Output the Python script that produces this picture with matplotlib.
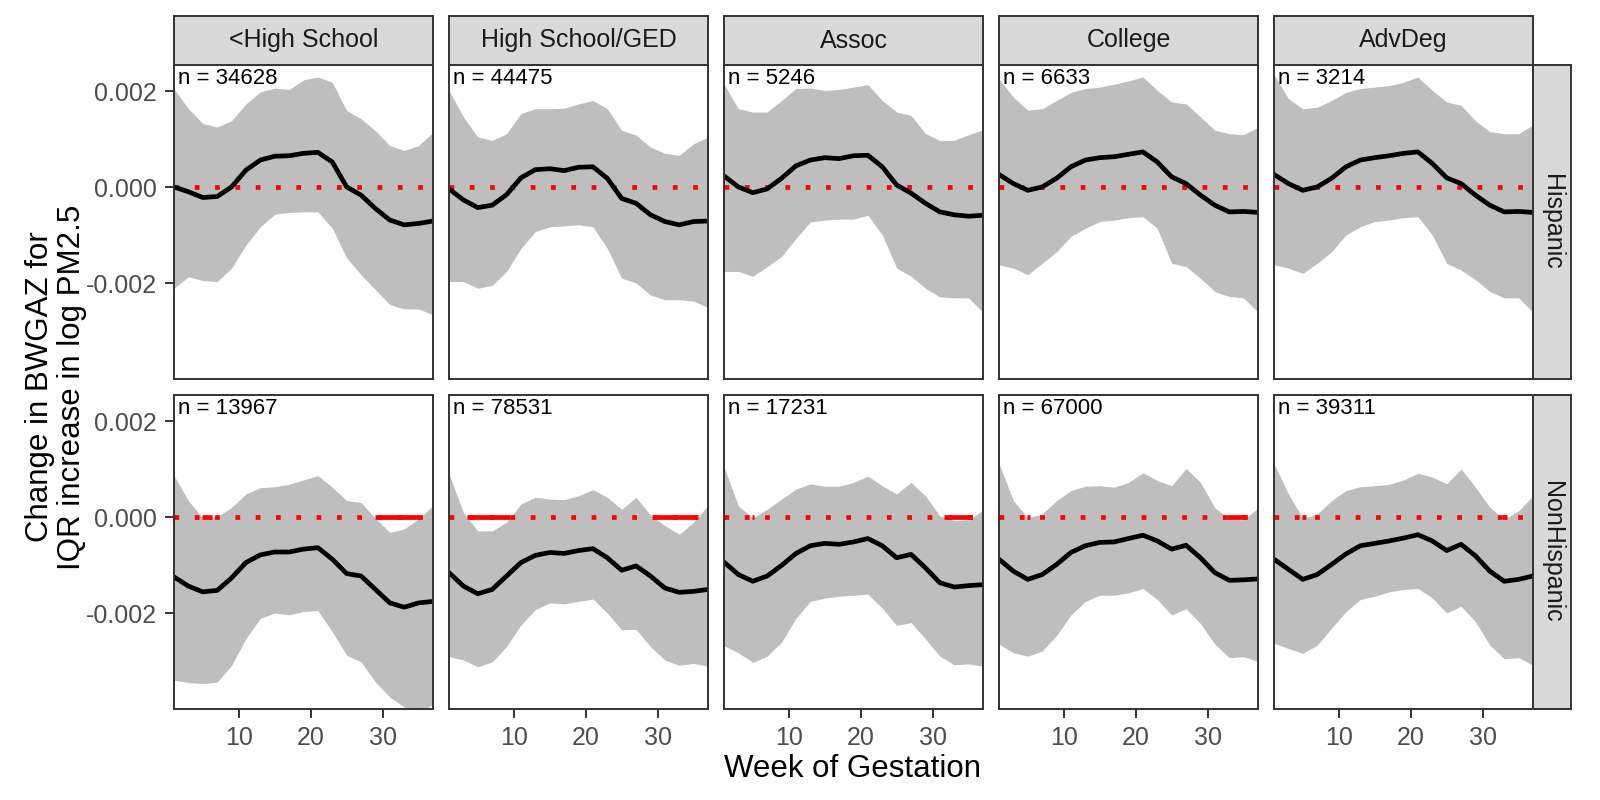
import numpy as np
import matplotlib.pyplot as plt

plt.rcParams['font.family'] = ['Liberation Sans', 'DejaVu Sans']

# week of gestation (read every second week)
weeks = np.arange(1, 38, 2)

education = ['<High School', 'High School/GED', 'Assoc', 'College', 'AdvDeg']
ethnicity = ['Hispanic', 'NonHispanic']
n_hisp = [34628, 44475, 5246, 6633, 3214]
n_nonhisp = [13967, 78531, 17231, 67000, 39311]

# estimate, lower and upper CI, in units of 1e-3, one list per education level
hisp_est = [
    [0.01, -0.09, -0.21, -0.19, 0.01, 0.36, 0.57, 0.65, 0.66, 0.71, 0.73, 0.53, 0.01, -0.16, -0.44, -0.68, -0.78, -0.75, -0.70],
    [-0.03, -0.26, -0.42, -0.37, -0.15, 0.20, 0.37, 0.39, 0.35, 0.42, 0.43, 0.19, -0.23, -0.33, -0.57, -0.71, -0.78, -0.71, -0.70],
    [0.24, 0.01, -0.11, -0.03, 0.19, 0.45, 0.57, 0.62, 0.60, 0.66, 0.67, 0.43, 0.05, -0.12, -0.33, -0.51, -0.57, -0.60, -0.58],
    [0.27, 0.08, -0.06, 0.01, 0.19, 0.43, 0.57, 0.62, 0.64, 0.69, 0.74, 0.53, 0.22, 0.08, -0.16, -0.37, -0.51, -0.50, -0.52],
    [0.27, 0.08, -0.06, 0.01, 0.19, 0.43, 0.57, 0.62, 0.66, 0.71, 0.74, 0.50, 0.20, 0.08, -0.16, -0.37, -0.51, -0.50, -0.52],
]
hisp_hi = [
    [2.05, 1.64, 1.33, 1.26, 1.39, 1.74, 1.99, 2.07, 2.04, 2.24, 2.30, 2.19, 1.60, 1.43, 1.18, 0.87, 0.77, 0.87, 1.15],
    [2.02, 1.47, 1.05, 0.98, 1.12, 1.54, 1.64, 1.64, 1.65, 1.74, 1.81, 1.64, 1.19, 1.09, 0.84, 0.71, 0.67, 0.91, 1.05],
    [2.15, 1.64, 1.57, 1.57, 1.81, 2.06, 2.07, 2.02, 2.04, 2.09, 2.14, 1.81, 1.57, 1.50, 1.12, 0.98, 0.98, 1.10, 1.20],
    [2.26, 1.88, 1.61, 1.64, 1.81, 1.98, 2.06, 2.09, 2.15, 2.22, 2.30, 2.02, 1.78, 1.74, 1.47, 1.19, 1.12, 1.10, 1.25],
    [2.35, 1.85, 1.64, 1.67, 1.81, 1.98, 2.06, 2.09, 2.12, 2.19, 2.30, 2.02, 1.78, 1.71, 1.39, 1.16, 1.12, 1.12, 1.30],
]
hisp_lo = [
    [-2.10, -1.86, -1.94, -1.96, -1.68, -1.20, -0.82, -0.56, -0.52, -0.51, -0.51, -0.85, -1.47, -1.82, -2.13, -2.44, -2.53, -2.53, -2.65],
    [-1.96, -1.96, -2.10, -2.04, -1.75, -1.27, -0.92, -0.82, -0.80, -0.78, -0.82, -1.27, -1.89, -1.99, -2.24, -2.34, -2.34, -2.37, -2.50],
    [-1.75, -1.75, -1.85, -1.65, -1.44, -1.06, -0.72, -0.68, -0.66, -0.66, -0.58, -0.99, -1.68, -1.85, -2.10, -2.28, -2.30, -2.30, -2.60],
    [-1.61, -1.68, -1.82, -1.58, -1.34, -1.02, -0.85, -0.71, -0.68, -0.63, -0.61, -0.85, -1.58, -1.65, -1.89, -2.17, -2.27, -2.30, -2.60],
    [-1.61, -1.68, -1.79, -1.58, -1.34, -0.99, -0.82, -0.71, -0.68, -0.63, -0.61, -0.99, -1.58, -1.72, -1.92, -2.17, -2.30, -2.30, -2.60],
]
nonhisp_est = [
    [-1.24, -1.43, -1.55, -1.52, -1.26, -0.94, -0.78, -0.72, -0.72, -0.66, -0.63, -0.87, -1.17, -1.22, -1.50, -1.78, -1.87, -1.78, -1.75],
    [-1.15, -1.43, -1.59, -1.50, -1.22, -0.94, -0.79, -0.73, -0.75, -0.69, -0.65, -0.84, -1.10, -1.01, -1.22, -1.47, -1.56, -1.54, -1.50],
    [-0.93, -1.19, -1.33, -1.22, -1.00, -0.75, -0.59, -0.54, -0.56, -0.51, -0.44, -0.59, -0.84, -0.77, -1.05, -1.36, -1.45, -1.42, -1.40],
    [-0.87, -1.12, -1.29, -1.19, -0.98, -0.73, -0.59, -0.52, -0.51, -0.44, -0.37, -0.49, -0.66, -0.58, -0.84, -1.15, -1.31, -1.30, -1.28],
    [-0.87, -1.08, -1.29, -1.19, -0.98, -0.76, -0.59, -0.54, -0.49, -0.43, -0.36, -0.49, -0.69, -0.56, -0.80, -1.12, -1.33, -1.29, -1.22],
]
nonhisp_hi = [
    [0.87, 0.35, -0.02, 0.01, 0.21, 0.49, 0.62, 0.64, 0.69, 0.78, 0.87, 0.63, 0.35, 0.31, -0.02, -0.31, -0.24, -0.03, 0.25],
    [0.91, 0.10, -0.28, -0.28, -0.10, 0.28, 0.42, 0.38, 0.37, 0.45, 0.58, 0.42, 0.17, 0.42, 0.05, -0.17, -0.35, -0.10, 0.25],
    [1.05, 0.24, -0.01, 0.17, 0.38, 0.59, 0.70, 0.65, 0.65, 0.73, 0.86, 0.66, 0.49, 0.73, 0.45, 0.03, -0.07, -0.05, 0.15],
    [1.12, 0.35, -0.01, 0.07, 0.35, 0.56, 0.65, 0.66, 0.63, 0.73, 0.93, 0.77, 0.66, 1.02, 0.73, 0.20, -0.03, -0.05, 0.20],
    [1.12, 0.49, -0.02, 0.07, 0.35, 0.56, 0.64, 0.66, 0.69, 0.78, 0.92, 0.84, 0.70, 1.01, 0.63, 0.21, -0.04, 0.14, 0.45],
]
nonhisp_lo = [
    [-3.39, -3.44, -3.46, -3.43, -3.08, -2.52, -2.10, -1.99, -2.03, -1.96, -1.94, -2.38, -2.87, -3.01, -3.43, -3.74, -3.95, -4.05, -3.90],
    [-2.90, -2.97, -3.11, -3.01, -2.69, -2.24, -1.92, -1.78, -1.80, -1.75, -1.70, -1.99, -2.34, -2.33, -2.69, -2.97, -3.08, -3.04, -3.10],
    [-2.67, -2.82, -3.02, -2.89, -2.60, -2.10, -1.75, -1.68, -1.64, -1.62, -1.60, -1.89, -2.25, -2.19, -2.53, -2.89, -3.07, -3.05, -3.10],
    [-2.64, -2.82, -2.89, -2.78, -2.46, -2.03, -1.75, -1.62, -1.62, -1.57, -1.48, -1.71, -2.03, -1.90, -2.21, -2.64, -2.92, -2.90, -3.00],
    [-2.62, -2.73, -2.83, -2.66, -2.31, -1.96, -1.71, -1.64, -1.55, -1.50, -1.48, -1.68, -1.99, -1.85, -2.17, -2.66, -2.94, -2.92, -3.08],
]

rows = [
    (hisp_est, hisp_lo, hisp_hi, n_hisp),
    (nonhisp_est, nonhisp_lo, nonhisp_hi, n_nonhisp),
]


def below_zero(x, hi):
    # spans where the upper bound sits under zero (linear crossings)
    spans = []
    start = x[0] if hi[0] < 0 else None
    for i in range(1, len(x)):
        a, b = hi[i - 1], hi[i]
        if (a < 0) != (b < 0):
            xc = x[i - 1] + (x[i] - x[i - 1]) * a / (a - b)
            if b < 0:
                start = xc
            else:
                spans.append((start, xc))
                start = None
    if start is not None:
        spans.append((start, x[-1]))
    return spans


# layout in pixels (1600 x 800)
W, H = 1600, 800
col_left = [174, 449, 724, 999, 1274]
PW, PH = 259, 314
row_top = [65, 395]
STRIP = 49
STRIP_R = 38
BORDER = '#333333'
LW = 3.4

fig = plt.figure(figsize=(16, 8), dpi=100)


def rect(x, y, w, h):
    return [x / W, 1 - (y + h) / H, w / W, h / H]


def style_strip(ax):
    ax.set_facecolor('#D9D9D9')
    ax.set_xticks([])
    ax.set_yticks([])
    for sp in ax.spines.values():
        sp.set_color(BORDER)
        sp.set_linewidth(1.4)


for r, (est, lo, hi, ns) in enumerate(rows):
    for c in range(5):
        ax = fig.add_axes(rect(col_left[c], row_top[r], PW, PH))
        e = np.array(est[c]) * 1e-3
        l = np.array(lo[c]) * 1e-3
        u = np.array(hi[c]) * 1e-3
        ax.fill_between(weeks, l, u, color='#BEBEBE', lw=0)
        ax.plot([1, 37], [0, 0], color='red', lw=LW, linestyle=(0, (1, 3.3)),
                dash_capstyle='butt')
        for s0, s1 in below_zero(weeks, hi[c]):
            ax.plot([s0, s1], [0, 0], color='red', lw=LW, solid_capstyle='butt')
        ax.plot(weeks, e, color='black', lw=LW)
        ax.text(0.015, 0.992, f'n = {ns[c]}', transform=ax.transAxes,
                ha='left', va='top', fontsize=16, color='black')

        ax.set_xlim(1, 37)
        ax.set_ylim(-3.99e-3, 2.55e-3)
        for sp in ax.spines.values():
            sp.set_color(BORDER)
            sp.set_linewidth(1.4)
        ax.tick_params(length=6.7, width=1.4, color=BORDER, labelcolor='#4D4D4D',
                       labelsize=18, pad=5.5)
        ax.set_xticks([10, 20, 30])
        ax.set_yticks([-0.002, 0.0, 0.002])
        if r == 1:
            ax.set_xticklabels(['10', '20', '30'])
        else:
            ax.tick_params(axis='x', bottom=False, labelbottom=False)
        if c == 0:
            ax.set_yticklabels(['-0.002', '0.000', '0.002'])
        else:
            ax.tick_params(axis='y', left=False, labelleft=False)

        # top strips
        if r == 0:
            sx = fig.add_axes(rect(col_left[c], 16, PW, STRIP))
            style_strip(sx)
            sx.text(0.5, 0.5, education[c], ha='center', va='center',
                    fontsize=18, color='#1A1A1A', transform=sx.transAxes)

    # right strips
    sy = fig.add_axes(rect(col_left[4] + PW, row_top[r], STRIP_R, PH))
    style_strip(sy)
    sy.text(0.5, 0.5, ethnicity[r], ha='center', va='center', rotation=-90,
            fontsize=18, color='#1A1A1A', transform=sy.transAxes)

fig.text(853 / W, 1 - 769 / H, 'Week of Gestation', ha='center', va='center',
         fontsize=22.5, color='black')
fig.text(56 / W, 1 - 387 / H, 'Change in BWGAZ for\nIQR increase in log PM2.5',
         ha='center', va='center', rotation=90, fontsize=22.5, color='black',
         multialignment='center', linespacing=1.12)

fig.savefig('out.png', dpi=100, facecolor='white')
